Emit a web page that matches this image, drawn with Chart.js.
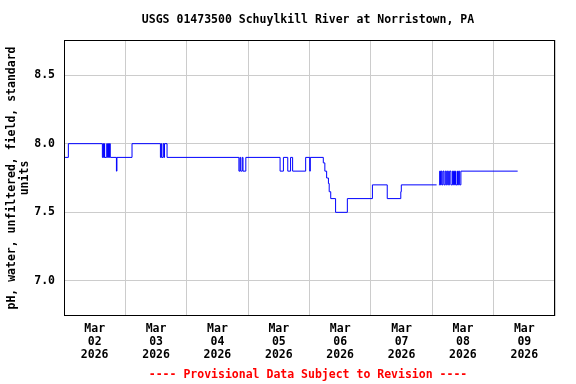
<!DOCTYPE html>
<html>
<head>
<meta charset="utf-8">
<script src="https://cdn.jsdelivr.net/npm/chart.js@4.4.1/dist/chart.umd.min.js"></script>
<style>
  html, body { margin: 0; padding: 0; background: #fff; }
  #chart { display: block; }
</style>
</head>
<body>
<canvas id="chart" width="576" height="384"></canvas>
<script>
// Hours since Mar 02 2026 00:00 at which the reading changes, and the new pH value
const changeHours = [
    0.0, 1.7, 15.0, 15.3, 15.5, 15.8, 15.9, 16.7, 17.0, 17.4, 17.6, 17.8, 18.1, 20.5, 20.7,
    26.6, 37.7, 38.0, 38.2, 38.8, 39.1, 39.3, 40.3,
    68.4, 68.8, 69.1, 69.7, 70.0, 71.1,
    84.5, 85.8, 87.5, 88.6, 89.4, 94.5, 96.1, 96.3,
    101.4, 102.0, 102.7, 103.4, 103.7, 104.3, 106.2, 110.8, 120.6, 126.4, 131.7, 131.9,
    145.7, 146.0, 146.6, 146.9, 147.2, 147.5, 147.8, 148.2, 148.6, 149.1, 149.5, 149.9, 150.3,
    150.8, 151.3, 151.9, 152.3, 152.7, 153.1, 153.7, 153.9, 154.3, 154.7, 155.2, 177.4
];
const phValues = [
    7.9, 8.0, 7.9, 8.0, 7.9, 8.0, 7.9, 8.0, 7.9, 8.0, 7.9, 8.0, 7.9, 7.8, 7.9,
    8.0, 7.9, 8.0, 7.9, 8.0, 7.9, 8.0, 7.9,
    7.8, 7.9, 7.8, 7.9, 7.8, 7.9,
    7.8, 7.9, 7.8, 7.9, 7.8, 7.9, 7.8, 7.9,
    7.86, 7.8, 7.75, 7.71, 7.65, 7.6, 7.5, 7.6, 7.7, 7.6, 7.65, 7.7,
    7.7, null, 7.7, 7.8, 7.7, 7.8, 7.7, 7.8, 7.7, 7.8, 7.7, 7.8, 7.7,
    7.8, 7.7, 7.8, 7.7, 7.8, 7.7, 7.8, 7.7, 7.8, 7.7, 7.8, 7.8
];
const yTicks = [7.0, 7.5, 8.0, 8.5];
const dayLabels = ['02', '03', '04', '05', '06', '07', '08', '09'];

const FONT = "'DejaVu Sans Mono', monospace";

// Title, axis title, footer and plot frame
const decorations = {
    id: 'decorations',
    afterDraw(chart) {
        const ctx = chart.ctx;
        const area = chart.chartArea;
        ctx.save();
        ctx.strokeStyle = '#000';
        ctx.lineWidth = 1;
        ctx.strokeRect(area.left + 0.5, area.top + 0.5, area.right - area.left - 1, area.bottom - area.top - 1);

        ctx.fillStyle = '#000';
        ctx.font = 'bold 11.5px ' + FONT;
        ctx.textAlign = 'center';
        ctx.textBaseline = 'middle';
        ctx.fillText('USGS 01473500 Schuylkill River at Norristown, PA', 308, 20);

        ctx.save();
        ctx.translate(12, (area.top + area.bottom) / 2);
        ctx.rotate(-Math.PI / 2);
        ctx.fillText('pH, water, unfiltered, field, standard', 0, 0);
        ctx.fillText('units', 0, 13);
        ctx.restore();

        ctx.fillStyle = '#ff0000';
        ctx.fillText('---- Provisional Data Subject to Revision ----', 308, 375);
        ctx.restore();
    }
};

new Chart(document.getElementById('chart'), {
    type: 'line',
    data: {
        datasets: [{
            data: changeHours.map((h, i) => ({ x: h, y: phValues[i] })),
            borderColor: '#0000ff',
            borderWidth: 1,
            pointRadius: 0,
            stepped: true,
            spanGaps: false,
            fill: false
        }]
    },
    options: {
        responsive: false,
        animation: false,
        events: [],
        layout: { padding: { top: 40, right: 21, left: 0, bottom: 0 } },
        plugins: {
            legend: { display: false },
            tooltip: { enabled: false }
        },
        scales: {
            x: {
                type: 'linear',
                min: 0,
                max: 192,
                afterBuildTicks: (scale) => {
                    const ticks = [];
                    for (let h = 0; h <= 192; h += 12) ticks.push({ value: h });
                    scale.ticks = ticks;
                },
                afterFit: (scale) => { scale.height = 68; },
                grid: {
                    color: (c) => (c.tick && c.tick.value % 24 === 0) ? '#cccccc' : 'rgba(0,0,0,0)',
                    lineWidth: 1,
                    drawTicks: false
                },
                border: { display: false },
                ticks: {
                    autoSkip: false,
                    maxRotation: 0,
                    minRotation: 0,
                    padding: 7,
                    color: '#000',
                    font: { family: FONT, size: 11.5, weight: 'bold', lineHeight: 1.12 },
                    callback: (value) => {
                        if (value % 24 !== 12) return '';
                        return ['Mar', dayLabels[Math.floor(value / 24)], '2026'];
                    }
                }
            },
            y: {
                min: 6.745,
                max: 8.755,
                afterBuildTicks: (scale) => {
                    scale.ticks = yTicks.map(v => ({ value: v }));
                },
                afterFit: (scale) => { scale.width = 64; },
                grid: { color: '#cccccc', lineWidth: 1, drawTicks: false },
                border: { display: false },
                ticks: {
                    padding: 9,
                    color: '#000',
                    font: { family: FONT, size: 11.5, weight: 'bold' },
                    callback: (value) => Number(value).toFixed(1)
                }
            }
        }
    },
    plugins: [decorations]
});
</script>
</body>
</html>
